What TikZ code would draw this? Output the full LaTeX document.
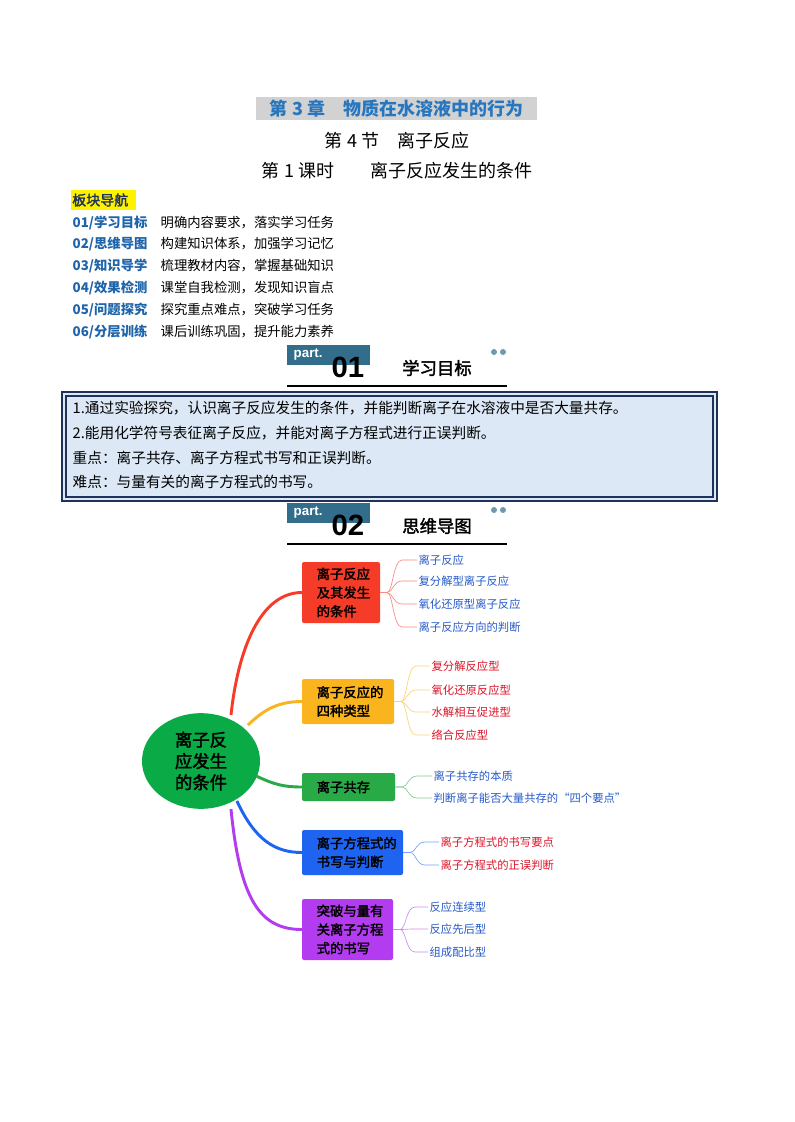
\documentclass[tikz,border=0pt]{standalone}
\usepackage{fontspec}
\setmainfont{Liberation Serif}
\newfontfamily\cjk{Noto Sans CJK SC}
\newfontfamily\cjkb[FakeBold=2]{Noto Sans CJK SC}
\newfontfamily\lsans{Liberation Sans}
\usetikzlibrary{shapes.geometric}
\definecolor{tblue}{RGB}{40,118,190}
\definecolor{navblue}{RGB}{30,100,170}
\definecolor{teal}{RGB}{50,110,140}
\definecolor{navy}{RGB}{30,50,90}
\definecolor{boxfill}{RGB}{220,232,246}
\definecolor{cgreen}{RGB}{10,170,70}
\definecolor{cred}{RGB}{245,60,40}
\definecolor{corange}{RGB}{250,180,30}
\definecolor{cgr}{RGB}{40,170,70}
\definecolor{cblue}{RGB}{30,100,240}
\definecolor{cpurple}{RGB}{180,60,240}
\definecolor{lblue}{RGB}{40,90,200}
\definecolor{lred}{RGB}{220,20,40}
\tikzset{
 navl/.style={anchor=west,text=navblue,font=\cjk\fontsize{10}{12}\selectfont\bfseries},
 navd/.style={anchor=west,font=\cjk\fontsize{10}{12}\selectfont},
 goal/.style={anchor=west,font=\cjk\fontsize{11}{13}\selectfont},
 bt/.style={anchor=west,align=left,font=\cjkb\fontsize{10}{14}\selectfont},
 leaf/.style={anchor=west,font=\cjk\fontsize{8.5}{10}\selectfont,inner sep=1pt},
 conn/.style={line width=2.2pt},
 thin/.style={line width=0.5pt}
}
\begin{document}
\begin{tikzpicture}[x=0.75pt,y=-0.75pt]
\useasboundingbox[fill=white] (0,0) rectangle (794,1122);
% titles
\fill[gray!35] (256,97) rectangle (537,120);
\node[text=tblue,font=\cjk\fontsize{13.5}{15}\selectfont\bfseries] (t1) at (396.5,108.5) {第 3 章\quad 物质在水溶液中的行为};
\node[font=\cjk\fontsize{13.5}{15}\selectfont] (t2) at (397,141) {第 4 节\quad 离子反应};
\node[font=\cjk\fontsize{13.5}{15}\selectfont] (t3) at (397,171) {第 1 课时\qquad 离子反应发生的条件};
\fill[yellow] (71,190) rectangle (136,210);
\node[anchor=west,inner sep=0pt,text=navy,font=\cjkb\fontsize{10.5}{12}\selectfont] (nav) at (72,200) {板块导航};
\node[navl] (n1) at (68,223) {01/学习目标}; \node[navd] (d1) at (156,223) {明确内容要求，落实学习任务};
\node[navl] (n2) at (68,244) {02/思维导图}; \node[navd] (d2) at (156,244) {构建知识体系，加强学习记忆};
\node[navl] (n3) at (68,266) {03/知识导学}; \node[navd] (d3) at (156,266) {梳理教材内容，掌握基础知识};
\node[navl] (n4) at (68,288) {04/效果检测}; \node[navd] (d4) at (156,288) {课堂自我检测，发现知识盲点};
\node[navl] (n5) at (68,310) {05/问题探究}; \node[navd] (d5) at (156,310) {探究重点难点，突破学习任务};
\node[navl] (n6) at (68,332) {06/分层训练}; \node[navd] (d6) at (156,332) {课后训练巩固，提升能力素养};
% part 01
\fill[teal] (287,345) rectangle (370,365);
\node[anchor=west,text=white,font=\lsans\bfseries\fontsize{10}{12}\selectfont] (p1) at (289,355) {part.};
\node[font=\lsans\bfseries\fontsize{22}{24}\selectfont] (p1n) at (348,367) {01};
\node[font=\cjkb\fontsize{13}{15}\selectfont] (p1t) at (437,368) {学习目标};
\fill[teal!70] (494,352) circle (3); \fill[teal!70] (503,352) circle (3);
\draw[line width=1.5pt] (287,386) -- (507,386);
% goals box
\draw[navy,line width=2pt,fill=boxfill] (62,392) rectangle (717,501);
\draw[navy,line width=1pt] (66,396) rectangle (713,497);
\node[goal] (g1) at (68,408) {1.通过实验探究，认识离子反应发生的条件，并能判断离子在水溶液中是否大量共存。};
\node[goal] (g2) at (68,433) {2.能用化学符号表征离子反应，并能对离子方程式进行正误判断。};
\node[goal] (g3) at (68,458) {重点：离子共存、离子方程式书写和正误判断。};
\node[goal] (g4) at (68,482) {难点：与量有关的离子方程式的书写。};
% part 02
\fill[teal] (287,503) rectangle (370,523);
\node[anchor=west,text=white,font=\lsans\bfseries\fontsize{10}{12}\selectfont] (p2) at (289,513) {part.};
\node[font=\lsans\bfseries\fontsize{22}{24}\selectfont] (p2n) at (348,525) {02};
\node[font=\cjkb\fontsize{13}{15}\selectfont] (p2t) at (437,526) {思维导图};
\fill[teal!70] (494,510) circle (3); \fill[teal!70] (503,510) circle (3);
\draw[line width=1.5pt] (287,544) -- (507,544);
% mind map
\node[ellipse,fill=cgreen,minimum width=118*0.75pt,minimum height=84*0.75pt,align=center,font=\cjkb\fontsize{13}{16}\selectfont] (c) at (201,761) {离子反\\应发生\\的条件};
\fill[cred,rounded corners=1.5pt] (302,562) rectangle (380,623);
\node[bt] (b1) at (312,592.5) {离子反应\\及其发生\\的条件};
\fill[corange,rounded corners=1.5pt] (302,679) rectangle (394,724);
\node[bt] (b2) at (312,701.5) {离子反应的\\四种类型};
\fill[cgr,rounded corners=1.5pt] (302,773) rectangle (395,801);
\node[bt] (b3) at (312,787) {离子共存};
\fill[cblue,rounded corners=1.5pt] (302,830) rectangle (403,875);
\node[bt] (b4) at (312,852.5) {离子方程式的\\书写与判断};
\fill[cpurple,rounded corners=1.5pt] (302,899) rectangle (393,960);
\node[bt] (b5) at (312,929.5) {突破与量有\\关离子方程\\式的书写};
\coordinate (e1) at (302,592.5); \coordinate (e2) at (302,701.5); \coordinate (e3) at (302,787);
\coordinate (e4) at (302,852.5); \coordinate (e5) at (302,929.5);
\draw[conn,cred] (c.north) ++(30,2) .. controls (238,650) and (260,592.5) .. (e1);
\draw[conn,corange] (c.north east) ++(5,-2) .. controls (262,712) and (275,701.5) .. (e2);
\draw[conn,cgr] (c.east) ++(-4,15) .. controls (275,785) and (285,787) .. (e3);
\draw[conn,cblue] (c.south east) ++(-6,6) .. controls (255,840) and (275,852.5) .. (e4);
\draw[conn,cpurple] (c.south) ++(30,0) .. controls (240,900) and (260,929.5) .. (e5);
% leaves
\foreach \col/\bx/\by/\lx/\tc/\items in {
 cred/380/592.5/417/lblue/{560/离子反应,581/复分解型离子反应,604/氧化还原型离子反应,627/离子反应方向的判断},
 corange/394/701.5/430/lred/{666/复分解反应型,690/氧化还原反应型,712/水解相互促进型,735/络合反应型},
 cgr/395/787/432/lblue/{776/离子共存的本质,798/判断离子能否大量共存的“四个要点”},
 cblue/403/852.5/439/lred/{842/离子方程式的书写要点,865/离子方程式的正误判断},
 cpurple/393/929.5/428/lblue/{907/反应连续型,929/反应先后型,952/组成配比型}}{
 \foreach \ly/\txt in \items {
  \node[leaf,text=\tc] (L\ly) at (\lx,\ly) {\txt};
  \draw[thin,\col!60] (\bx,\by) -- (\bx+7,\by) .. controls (\bx+13,\by) and (\bx+13,\ly) .. (\bx+22,\ly) -- (L\ly.west);
 }
}
\end{tikzpicture}
\end{document}
